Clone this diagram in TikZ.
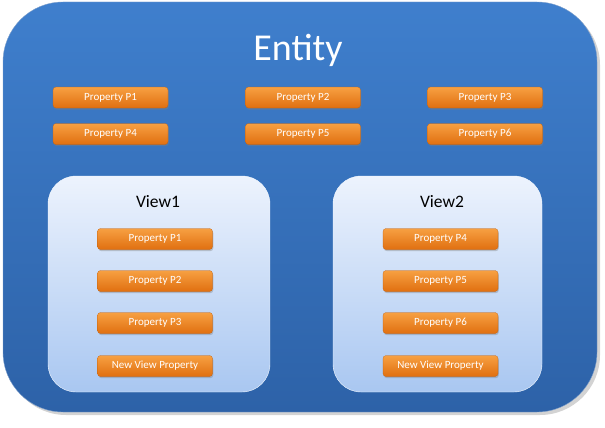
\documentclass[tikz,border=0pt]{standalone}
\usepackage{fontspec}
\setmainfont{Carlito}
\usetikzlibrary{shadows}

\definecolor{entitytop}{HTML}{3F7FCD}
\definecolor{entitybot}{HTML}{2D62A8}
\definecolor{viewtop}{HTML}{EDF3FD}
\definecolor{viewbot}{HTML}{A9C7F1}
\definecolor{proptop}{HTML}{F7A042}
\definecolor{propbot}{HTML}{E06F10}

\tikzset{
  entitybox/.style={rectangle, rounded corners=60pt, minimum width=594pt, minimum height=410pt,
    top color=entitytop, bottom color=entitybot, draw=entitybot!60!white, thin,
    drop shadow={opacity=0.35, shadow xshift=3pt, shadow yshift=-3pt}},
  viewbox/.style={rectangle, rounded corners=28pt, minimum height=216pt,
    top color=viewtop, bottom color=viewbot, draw=white!85!viewbot, thin},
  prop/.style={rectangle, rounded corners=3pt, minimum width=115pt, minimum height=21pt,
    top color=proptop, bottom color=propbot, draw=propbot!85!black, very thin,
    text=white, font=\fontsize{11}{12}\selectfont,
    drop shadow={opacity=0.4, shadow xshift=0.8pt, shadow yshift=-1.6pt}},
  viewlabel/.style={font=\fontsize{17.5}{20}\selectfont, text=black},
}

\begin{document}
\begin{tikzpicture}[x=1pt, y=-1pt]
    \useasboundingbox (0,0) rectangle (605,428);

    % Entity
    \node[entitybox] (entity) at (300,207) {};
    \node[text=white, font=\fontsize{38}{42}\selectfont] (title) at (298,50) {Entity};

    % Eigenschaften der Entity
    \node[prop] (p1) at (110.5,97.5) {Property P1};
    \node[prop] (p2) at (303,97.5) {Property P2};
    \node[prop] (p3) at (485,97.5) {Property P3};
    \node[prop] (p4) at (110.5,134) {Property P4};
    \node[prop] (p5) at (303,134) {Property P5};
    \node[prop] (p6) at (485,134) {Property P6};

    % View1
    \node[viewbox, minimum width=222pt] (view1) at (159,284) {};
    \node[viewlabel] (v1title) at (158,202) {View1};
    \node[prop] (v1p1) at (155,239) {Property P1};
    \node[prop] (v1p2) at (155,281) {Property P2};
    \node[prop] (v1p3) at (155,323) {Property P3};
    \node[prop] (v1new) at (155,366) {New View Property};

    % View2
    \node[viewbox, minimum width=209pt] (view2) at (437.5,284) {};
    \node[viewlabel] (v2title) at (442,202) {View2};
    \node[prop] (v2p4) at (440.5,239) {Property P4};
    \node[prop] (v2p5) at (440.5,281) {Property P5};
    \node[prop] (v2p6) at (440.5,323) {Property P6};
    \node[prop] (v2new) at (440.5,366) {New View Property};
\end{tikzpicture}
\end{document}
